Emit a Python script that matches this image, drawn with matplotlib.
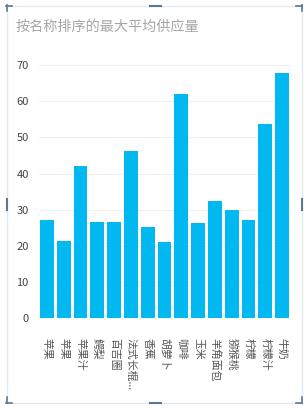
import matplotlib
matplotlib.use("Agg")
import matplotlib.pyplot as plt
from matplotlib.lines import Line2D

BAR = "#01B8F0"; GRID = "#EFEFEF"; TXT = "#555555"; TITLE = "#A6A6A6"
FRAME = "#E3E9F0"; MARK = "#5B7793"

plt.rcParams["font.family"] = ["Noto Sans CJK SC", "DejaVu Sans"]

names = ["苹果", "苹果", "苹果汁", "鳄梨", "百吉圈", "法式长棍...", "香蕉", "胡萝卜",
         "咖啡", "玉米", "羊角面包", "猕猴桃", "柠檬", "柠檬汁", "牛奶"]
values = [27.1, 21.4, 42.0, 26.6, 26.6, 46.3, 25.3, 21.1,
          62.1, 26.2, 32.5, 29.9, 27.1, 53.8, 67.9]
yticks = [0, 10, 20, 30, 40, 50, 60, 70]

fig = plt.figure(figsize=(3.08, 4.08), dpi=100)
W, H = 308, 408

# outer visual frame with selection marks
def px(x, y):
    return x / W, 1 - y / H

def seg(x0, y0, x1, y1, color, lw):
    a, b = px(x0, y0), px(x1, y1)
    fig.add_artist(Line2D([a[0], b[0]], [a[1], b[1]], color=color, linewidth=lw,
                          transform=fig.transFigure))

seg(6, 5.5, 302, 5.5, FRAME, 1.0)
seg(6, 402.5, 302, 402.5, FRAME, 1.0)
seg(6.5, 5, 6.5, 403, FRAME, 1.0)
seg(301.5, 5, 301.5, 403, FRAME, 1.0)
# corner / edge handles
seg(6, 5.5, 12, 5.5, MARK, 1.2); seg(6.5, 5, 6.5, 11, MARK, 1.2)
seg(296, 5.5, 302, 5.5, MARK, 1.2); seg(301.5, 5, 301.5, 11, MARK, 1.2)
seg(6, 402.5, 12, 402.5, MARK, 1.2); seg(6.5, 397, 6.5, 403, MARK, 1.2)
seg(296, 402.5, 302, 402.5, MARK, 1.2); seg(301.5, 397, 301.5, 403, MARK, 1.2)
seg(150, 5.5, 161, 5.5, MARK, 1.5); seg(150, 402.5, 161, 402.5, MARK, 1.5)
seg(6.5, 199, 6.5, 210, MARK, 1.5); seg(301.5, 199, 301.5, 210, MARK, 1.5)

fig.text(16 / W, 1 - 27 / H, "按名称排序的最大平均供应量", color=TITLE,
         fontsize=10.2, ha="left", va="center")

ax = fig.add_axes([38.5 / W, 1 - 318.3 / H, 252 / W, 253.3 / H])
x = range(len(names))
ax.bar(x, values, width=0.81, color=BAR, zorder=3)
ax.set_xlim(-0.5, len(names) - 0.5)
ax.set_ylim(0, 70)
ax.set_yticks(yticks)
ax.set_xticks(list(x))
ax.set_xticklabels(names, rotation=-90, fontsize=7.8, color=TXT, va="top")
ax.tick_params(axis="y", length=0, labelsize=8, labelcolor="#444444", pad=7)
ax.tick_params(axis="x", length=0, pad=14)
for s in ax.spines.values():
    s.set_visible(False)
ax.grid(axis="y", color=GRID, linewidth=0.8, zorder=0)

fig.savefig("out.png", dpi=100)
